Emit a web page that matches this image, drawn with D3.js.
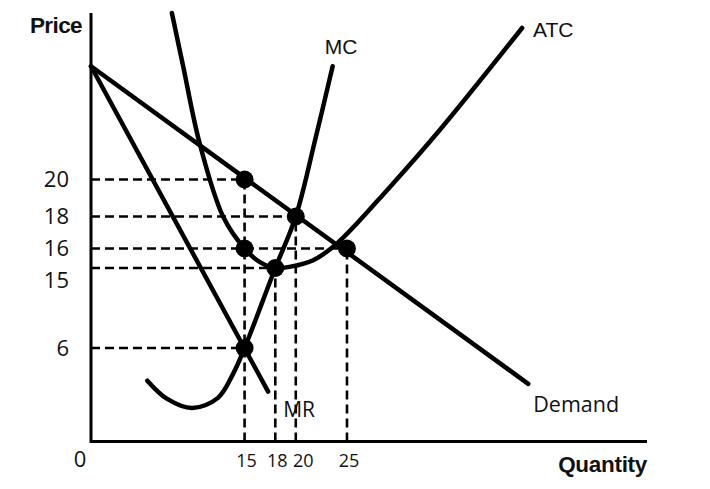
<!DOCTYPE html>
<html>
<head>
<meta charset="utf-8">
<script src="https://cdn.jsdelivr.net/npm/d3@7"></script>
<style>
  html, body { margin: 0; padding: 0; background: #fff; }
  svg { display: block; }
</style>
</head>
<body>
<script>
// ---- data (quantity, price) ----
const priceTicks = [20, 18, 16, 15, 6];
const quantityTicks = [15, 18, 20, 25];
const demand = [[0, 26.8], [42.7, 3.7]];
const mr = [[0, 26.8], [17.3, 3.2]];
const mc = [[5.5, 3.9], [7.4, 2.75], [9.9, 2.15], [12.4, 2.8], [13.9, 4.37], [15, 6], [18, 15], [20, 18], [21.9, 22.4], [23.6, 26.8]];
const atc = [[7.9, 30], [9.0, 26.8], [10.6, 22.2], [12.9, 18.0], [15, 16], [16.5, 15.3], [18, 15], [19.5, 15.07], [21.7, 15.4], [24.0, 16.3], [29.2, 19.6], [34.1, 23.0], [42.1, 29.1]];
const points = [[15, 20], [20, 18], [15, 16], [18, 15], [25, 16], [15, 6]];
// horizontal guides: price level -> quantity reached
const hGuides = [[20, 15], [18, 20], [16, 25], [15, 18], [6, 15]];
// vertical guides: quantity -> price reached
const vGuides = [[15, 20], [18, 15], [20, 18], [25, 16]];

const W = 710, H = 489;
const svg = d3.select("body").append("svg").attr("width", W).attr("height", H);
svg.append("rect").attr("width", W).attr("height", H).attr("fill", "#fff");

const x = d3.scaleLinear().domain([0, 54.3]).range([91, 647]);
// schematic (non-uniform) price axis, as in the original drawing
const y = d3.scaleLinear().domain([0, 6, 15, 16, 18, 20, 30]).range([441.5, 348, 268, 248.5, 216.5, 179.5, 13]);

const line = d3.line().x(d => x(d[0])).y(d => y(d[1]));
const curve = d3.line().x(d => x(d[0])).y(d => y(d[1])).curve(d3.curveCatmullRom.alpha(0.5));

// dashed guides
const g = svg.append("g").attr("stroke", "#000").attr("stroke-width", 2.6).attr("stroke-dasharray", "9,5").attr("fill", "none");
hGuides.forEach(([p, q]) => {
  g.append("path").attr("d", line([[0, p], [q, p]]));
});
vGuides.forEach(([q, p]) => {
  g.append("path").attr("d", line([[q, 0], [q, p]]));
});

// axes
svg.append("path").attr("d", line([[0, 30], [0, 0], [54.3, 0]]))
  .attr("fill", "none").attr("stroke", "#000").attr("stroke-width", 3);

// curves
const curvesG = svg.append("g").attr("fill", "none").attr("stroke", "#000").attr("stroke-width", 4.5).attr("stroke-linecap", "round");
curvesG.append("path").attr("d", line(demand));
curvesG.append("path").attr("d", line(mr));
curvesG.append("path").attr("d", curve(mc));
curvesG.append("path").attr("d", curve(atc));

// dots
svg.append("g").selectAll("circle").data(points).join("circle")
  .attr("cx", d => x(d[0])).attr("cy", d => y(d[1])).attr("r", 9).attr("fill", "#000");

// y tick labels with simple collision nudge
let lastY = -Infinity;
priceTicks.map(v => ({ v, py: y(v) })).sort((a, b) => a.py - b.py).forEach(t => {
  let py = Math.max(t.py, lastY + 32);
  lastY = py;
  svg.append("text").attr("x", x(0) - 22).attr("y", py).attr("dy", "0.36em")
    .attr("text-anchor", "end").attr("font-family", "Open Sans").attr("font-size", 22)
    .attr("fill", "#111").text(t.v);
});
// x tick labels with nudge
let lastX = -Infinity;
quantityTicks.map(v => ({ v, px: x(v) + 2 })).sort((a, b) => a.px - b.px).forEach(t => {
  let px = Math.max(t.px, lastX + 26);
  lastX = px;
  svg.append("text").attr("x", px).attr("y", 467)
    .attr("text-anchor", "middle").attr("font-family", "Open Sans").attr("font-size", 18)
    .attr("fill", "#111").text(t.v);
});
svg.append("text").attr("x", x(0) - 11).attr("y", 467).attr("text-anchor", "middle")
  .attr("font-family", "Open Sans").attr("font-size", 22).attr("fill", "#111").text("0");

// axis titles
svg.append("text").attr("x", x(0) - 9).attr("y", 33).attr("text-anchor", "end")
  .attr("font-family", "Liberation Sans").attr("font-weight", "bold").attr("font-size", 22.5)
  .attr("letter-spacing", -0.6).attr("fill", "#111").text("Price");
svg.append("text").attr("x", x(54.3)).attr("y", 472).attr("text-anchor", "end")
  .attr("font-family", "Liberation Sans").attr("font-weight", "bold").attr("font-size", 22.5)
  .attr("letter-spacing", -0.3).attr("fill", "#111").text("Quantity");

// curve labels, attached to each curve's end
const lab = (pt, dx, dy, txt, fam, fs) => svg.append("text")
  .attr("x", x(pt[0]) + dx).attr("y", y(pt[1]) + dy)
  .attr("font-family", fam).attr("font-size", fs).attr("fill", "#111").text(txt);
lab(mc[mc.length - 1], -8, -12, "MC", "Liberation Sans", 21);
lab(atc[atc.length - 1], 11, 9, "ATC", "Liberation Sans", 21);
lab(mr[mr.length - 1], 15, 25, "MR", "Open Sans", 21);
lab(demand[demand.length - 1], 5, 28, "Demand", "Open Sans", 21.5);
</script>
</body>
</html>
